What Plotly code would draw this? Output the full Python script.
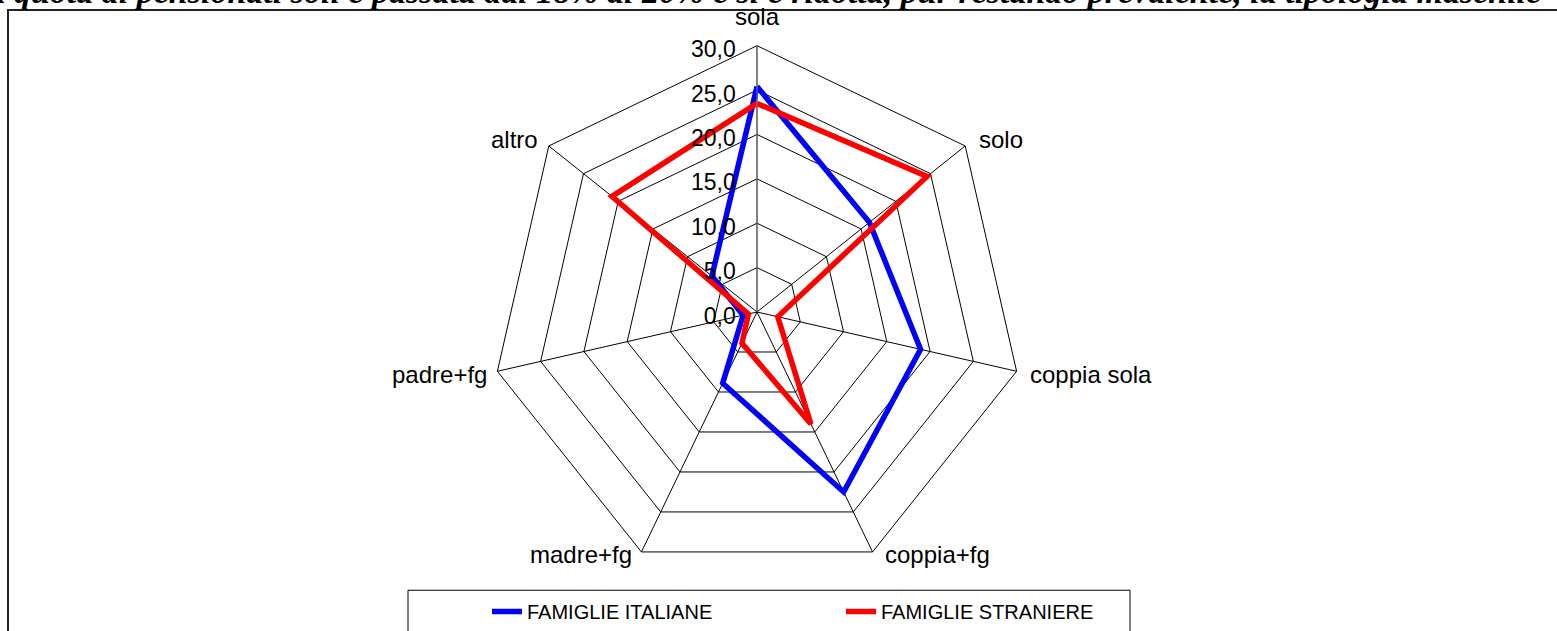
import math
import plotly.graph_objects as go

W, H = 1557, 631

categories = ["sola", "solo", "coppia sola", "coppia+fg", "madre+fg", "padre+fg", "altro"]
italiane = [25.4, 16.2, 18.9, 22.5, 8.9, 1.6, 6.5]
straniere = [23.5, 24.5, 2.4, 14.0, 3.9, 1.0, 20.9]
series_names = ["FAMIGLIE ITALIANE", "FAMIGLIE STRANIERE"]
series_colors = ["#0000FF", "#FF0000"]
radial_ticks = [0, 5, 10, 15, 20, 25, 30]
r_max = 30
title_text = ("la quota di pensionati soli è passata dal 18% al 20% e si è ridotta, "
              "pur restando prevalente, la tipologia maschile")


def px_x(x):
    return x / W


def px_y(y):
    return (H - y) / H


fig = go.Figure()
for name, vals, col in zip(series_names, [italiane, straniere], series_colors):
    fig.add_trace(go.Scatterpolar(
        r=vals + vals[:1],
        theta=categories + categories[:1],
        mode="lines",
        name=name,
        line=dict(color=col, width=5.5),
    ))

# polar area: centre and outer radius in pixels
cx, cy, R = 757, 314, 268

# category labels sit beside the outer vertices of the web
cat_annotations = []
n = len(categories)
for i, cat in enumerate(categories):
    ang = 2 * math.pi * i / n
    vx = cx + R * math.sin(ang)
    vy = cy - R * math.cos(ang)
    if i == 0:
        xa, ya, xs, ys = "center", "bottom", 0, 14
    elif math.sin(ang) > 0:
        xa, ya, xs = "left", "middle", 10
        ys = 6 if math.cos(ang) > 0 else -3
    else:
        xa, ya, xs = "right", "middle", -7
        ys = 6 if math.cos(ang) > 0 else -3
    cat_annotations.append(dict(
        text=cat, xref="paper", yref="paper",
        x=px_x(vx), y=px_y(vy), xanchor=xa, yanchor=ya,
        xshift=xs, yshift=ys, showarrow=False,
        font=dict(family="Liberation Sans, Arial, sans-serif", size=24, color="black"),
    ))

fig.update_layout(
    width=W, height=H,
    margin=dict(l=0, r=0, t=0, b=0),
    paper_bgcolor="white",
    plot_bgcolor="white",
    separators=",.",
    font=dict(family="Liberation Sans, Arial, sans-serif", color="black"),
    showlegend=True,
    polar=dict(
        domain=dict(x=[px_x(cx - R), px_x(cx + R)], y=[px_y(cy + R), px_y(cy - R)]),
        bgcolor="white",
        gridshape="linear",
        radialaxis=dict(
            range=[0, r_max],
            tickvals=radial_ticks,
            tickformat=".1f",
            angle=90,
            side="counterclockwise",
            showline=True,
            linecolor="#808080",
            linewidth=1,
            gridcolor="black",
            gridwidth=1,
            ticks="",
            tickfont=dict(size=23, color="black"),
        ),
        angularaxis=dict(
            direction="clockwise",
            rotation=90,
            showline=True,
            linecolor="black",
            linewidth=1,
            gridcolor="black",
            gridwidth=1,
            ticks="",
            showticklabels=False,
        ),
    ),
    legend=dict(
        orientation="h",
        x=px_x(487), xanchor="left",
        y=px_y(596), yanchor="top",
        font=dict(size=20, color="black"),
        bgcolor="rgba(0,0,0,0)",
        borderwidth=0,
        entrywidth=309,
        entrywidthmode="pixels",
    ),
    shapes=[
        # outer chart frame
        dict(type="rect", xref="paper", yref="paper",
             x0=px_x(8), x1=1.01, y0=-0.05, y1=px_y(10),
             line=dict(color="#222222", width=2), layer="below"),
        # legend frame
        dict(type="rect", xref="paper", yref="paper",
             x0=px_x(408), x1=px_x(1130), y0=-0.05, y1=px_y(594),
             line=dict(color="black", width=1), layer="below"),
    ],
    annotations=[
        dict(text="<b><i>" + title_text + "</i></b>",
             xref="paper", yref="paper",
             x=px_x(760), xanchor="center",
             y=px_y(-9), yanchor="middle",
             showarrow=False,
             font=dict(family="Liberation Serif, Times New Roman, serif", size=34, color="black")),
    ] + cat_annotations,
)

fig.write_html("out.html")
